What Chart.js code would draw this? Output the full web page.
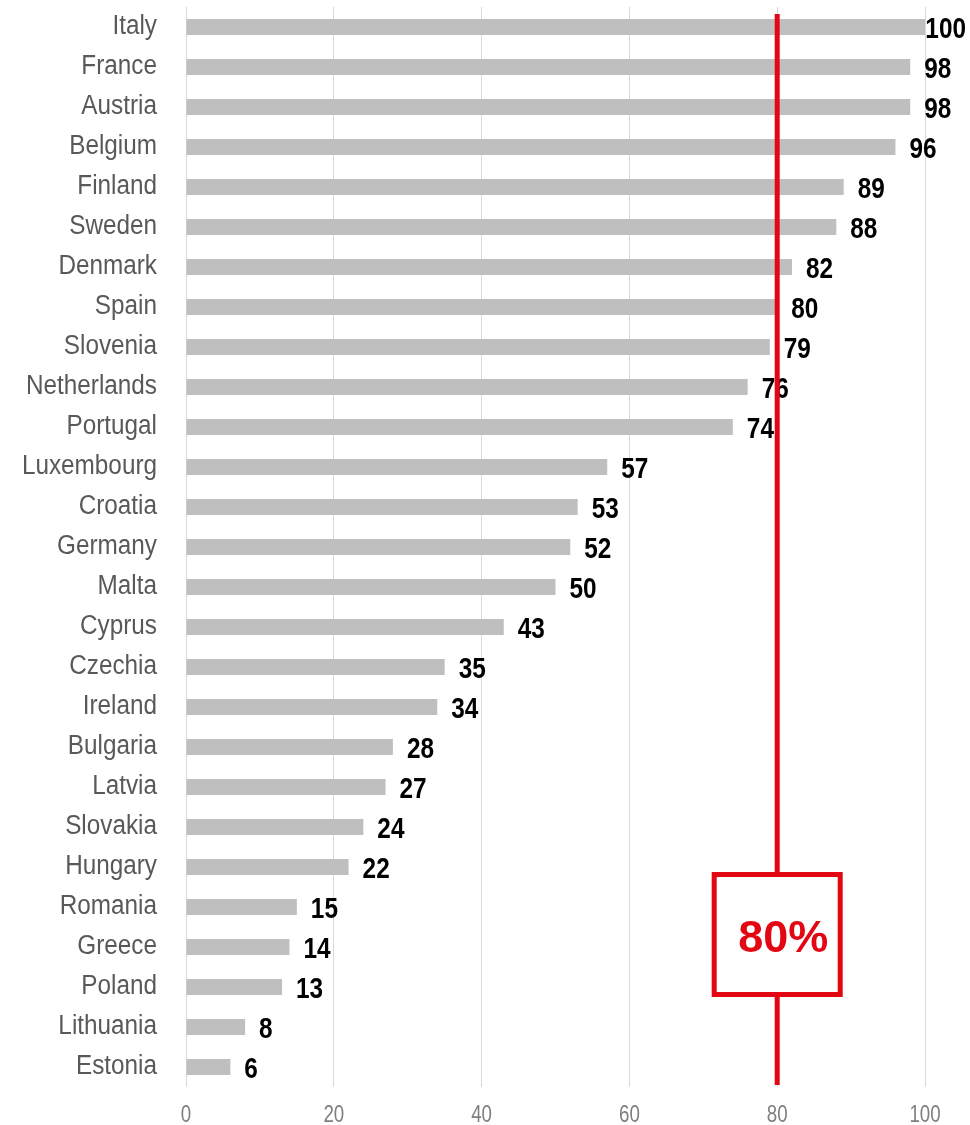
<!DOCTYPE html>
<html>
<head>
<meta charset="utf-8">
<script src="https://cdn.jsdelivr.net/npm/chart.js@4.4.1/dist/chart.umd.min.js"></script>
<style>
  html, body { margin: 0; padding: 0; background: #fff; }
  #wrap { width: 970px; height: 1125px; position: relative; }
</style>
</head>
<body>
<div id="wrap"><canvas id="chart" width="970" height="1125"></canvas></div>
<script>
"use strict";

let COUNTRIES = [
    "Italy", "France", "Austria", "Belgium", "Finland", "Sweden", "Denmark",
    "Spain", "Slovenia", "Netherlands", "Portugal", "Luxembourg", "Croatia",
    "Germany", "Malta", "Cyprus", "Czechia", "Ireland", "Bulgaria", "Latvia",
    "Slovakia", "Hungary", "Romania", "Greece", "Poland", "Lithuania", "Estonia"
];

let VALUES = [
    100, 98, 98, 96, 89, 88, 82,
    80, 79, 76, 74, 57, 53,
    52, 50, 43, 35, 34, 28, 27,
    24, 22, 15, 14, 13, 8, 6
];

let X_TICKS = [0, 20, 40, 60, 80, 100];
let TARGET = 80;
let TARGET_LABEL = "80%";

let RED = "#e30613";
let FONT = "'Liberation Sans', Arial, sans-serif";

// fake "Arial Narrow": squeeze Liberation Sans horizontally
function narrowText(ctx, text, x, y, squeeze) {
    ctx.save();
    ctx.translate(x, y);
    ctx.scale(squeeze, 1);
    ctx.fillText(text, 0, 0);
    ctx.restore();
}

// axis labels + value labels, drawn by hand so they can be condensed
let labels = {
    id: "labels",
    afterDatasetsDraw: function(chart) {
        let ctx = chart.ctx;
        let meta = chart.getDatasetMeta(0);
        let xs = chart.scales.x;
        ctx.save();
        ctx.textBaseline = "alphabetic";

        // category labels
        ctx.font = "27px " + FONT;
        ctx.fillStyle = "#595959";
        ctx.textAlign = "right";
        meta.data.forEach(function(bar, i) {
            narrowText(ctx, COUNTRIES[i], xs.left - 29, bar.y + 7, 0.9);
        });

        // x tick labels
        ctx.font = "24px " + FONT;
        ctx.fillStyle = "#7f7f7f";
        ctx.textAlign = "center";
        X_TICKS.forEach(function(v) {
            narrowText(ctx, String(v), xs.getPixelForValue(v), chart.chartArea.bottom + 35, 0.78);
        });

        // value labels
        ctx.font = "bold 29px " + FONT;
        ctx.fillStyle = "#000";
        ctx.textAlign = "left";
        meta.data.forEach(function(bar, i) {
            let text = String(VALUES[i]);
            let w = ctx.measureText(text).width * 0.84;
            let x = bar.x + 14;
            if (x + w > chart.width - 4) x = chart.width - 4 - w;
            narrowText(ctx, text, x, bar.y + 10.5, 0.84);
        });
        ctx.restore();
    }
};

// red target line with boxed label
let targetLine = {
    id: "targetLine",
    afterDraw: function(chart) {
        let ctx = chart.ctx;
        let x = chart.scales.x.getPixelForValue(TARGET);
        let area = chart.chartArea;
        ctx.save();
        ctx.strokeStyle = RED;
        ctx.lineWidth = 5;
        ctx.beginPath();
        ctx.moveTo(x, area.top + 7);
        ctx.lineTo(x, area.bottom - 2);
        ctx.stroke();

        let bx = x - 63, by = 874.5, bw = 126, bh = 120;
        ctx.fillStyle = "#fff";
        ctx.fillRect(bx, by, bw, bh);
        ctx.strokeRect(bx, by, bw, bh);

        ctx.fillStyle = RED;
        ctx.font = "bold 45px " + FONT;
        ctx.textAlign = "center";
        ctx.textBaseline = "alphabetic";
        ctx.fillText(TARGET_LABEL, x + 6, 952);
        ctx.restore();
    }
};

new Chart(document.getElementById("chart"), {
    type: "bar",
    data: {
        labels: COUNTRIES,
        datasets: [{
            data: VALUES,
            backgroundColor: "#bfbfbf",
            borderWidth: 0,
            barPercentage: 0.4,
            categoryPercentage: 1.0
        }]
    },
    options: {
        indexAxis: "y",
        responsive: false,
        animation: false,
        layout: {
            padding: { top: 7, right: 45, left: 0, bottom: 0 }
        },
        plugins: {
            legend: { display: false },
            tooltip: { enabled: false }
        },
        scales: {
            x: {
                min: 0,
                max: 100,
                afterBuildTicks: function(scale) {
                    scale.ticks = X_TICKS.map(function(v) { return { value: v }; });
                },
                afterFit: function(scale) { scale.height = 38; },
                grid: {
                    color: "#d9d9d9",
                    lineWidth: 1,
                    drawTicks: false
                },
                border: { display: false },
                ticks: { display: false }
            },
            y: {
                afterFit: function(scale) { scale.width = 186; },
                grid: { display: false, drawTicks: false },
                border: { display: false },
                ticks: { display: false }
            }
        }
    },
    plugins: [labels, targetLine]
});
</script>
</body>
</html>
